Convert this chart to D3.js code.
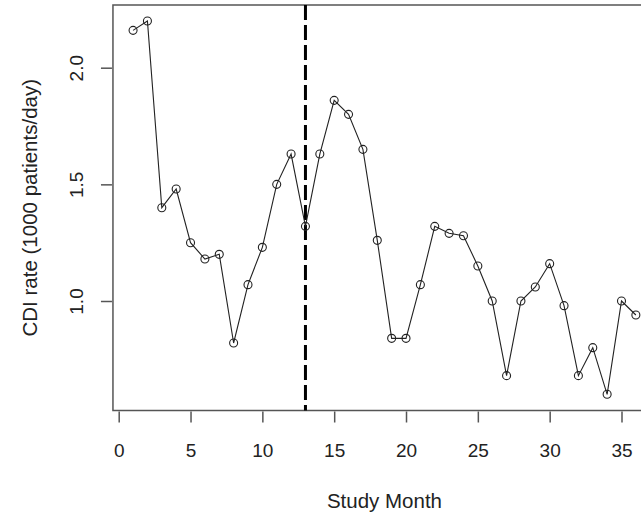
<!DOCTYPE html>
<html>
<head>
<meta charset="utf-8">
<script src="https://cdn.jsdelivr.net/npm/d3@7"></script>
<style>
  body { margin: 0; background: #fff; }
  svg { display: block; font-family: "Liberation Sans", Arial, sans-serif; }
</style>
</head>
<body>
<div id="chart"></div>
<script>
// monthly CDI rate, months 1..36
const months = d3.range(1, 37);
const rates = [
  2.16, 2.20, 1.40, 1.48, 1.25, 1.18, 1.20, 0.82, 1.07, 1.23,
  1.50, 1.63, 1.32, 1.63, 1.86, 1.80, 1.65, 1.26, 0.84, 0.84,
  1.07, 1.32, 1.29, 1.28, 1.15, 1.00, 0.68, 1.00, 1.06, 1.16,
  0.98, 0.68, 0.80, 0.60, 1.00, 0.94
];
const xTicks = [0, 5, 10, 15, 20, 25, 30, 35];
const yTicks = [1.0, 1.5, 2.0];
const interventionMonth = 13;

const width = 641;
const height = 516;

const svg = d3.select("#chart")
  .append("svg")
  .attr("width", width)
  .attr("height", height);

// R-style plot region (right side runs off the canvas)
const x = d3.scaleLinear().domain([0, 35]).range([118.7, 621.5]);
const y = d3.scaleLinear().domain([1.0, 2.0]).range([301, 67.7]);

const x0 = x(-0.4), x1 = x(37.4);
const yTop = 5, yBot = 410.5;

// box
svg.append("rect")
  .attr("x", x0)
  .attr("y", yTop)
  .attr("width", x1 - x0)
  .attr("height", yBot - yTop)
  .attr("fill", "none")
  .attr("stroke", "#555")
  .attr("stroke-width", 1.5);

// x axis
const xAxis = svg.append("g")
  .attr("transform", `translate(0,${yBot + 1})`)
  .call(d3.axisBottom(x).tickValues(xTicks).tickSize(11).tickPadding(21).tickFormat(d3.format("d")));
xAxis.select(".domain").remove();
xAxis.selectAll("line").attr("stroke", "#555").attr("stroke-width", 1.5);
xAxis.selectAll("text")
  .attr("font-size", 19)
  .attr("font-family", "Liberation Sans, Arial, sans-serif")
  .attr("fill", "#222");

// y axis, labels rotated like R's default las=0
const yAxis = svg.append("g")
  .attr("transform", `translate(${x0 - 1},0)`)
  .call(d3.axisLeft(y).tickValues(yTicks).tickSize(11).tickFormat(d3.format(".1f")));
yAxis.select(".domain").remove();
yAxis.selectAll("line").attr("stroke", "#555").attr("stroke-width", 1.5);
yAxis.selectAll("text")
  .attr("x", null)
  .attr("text-anchor", "middle")
  .attr("transform", "translate(-36,0) rotate(-90)")
  .attr("dy", "0.35em")
  .attr("font-size", 19)
  .attr("font-family", "Liberation Sans, Arial, sans-serif")
  .attr("fill", "#222");

// axis titles
svg.append("text")
  .attr("x", (x0 + x1) / 2)
  .attr("y", 508)
  .attr("text-anchor", "middle")
  .attr("font-size", 20.5)
  .attr("fill", "#222")
  .text("Study Month");

svg.append("text")
  .attr("transform", `translate(37,${(yTop + yBot) / 2}) rotate(-90)`)
  .attr("text-anchor", "middle")
  .attr("font-size", 20.5)
  .attr("fill", "#222")
  .text("CDI rate (1000 patients/day)");

// intervention line
svg.append("line")
  .attr("x1", x(interventionMonth))
  .attr("x2", x(interventionMonth))
  .attr("y1", yTop)
  .attr("y2", yBot)
  .attr("stroke", "#000")
  .attr("stroke-width", 3)
  .attr("stroke-dasharray", "15,5");

// series
const pts = months.map((m, i) => ({ m, v: rates[i] }));

svg.append("path")
  .datum(pts)
  .attr("fill", "none")
  .attr("stroke", "#222")
  .attr("stroke-width", 1.1)
  .attr("d", d3.line().x(d => x(d.m)).y(d => y(d.v)));

svg.append("g")
  .selectAll("circle")
  .data(pts)
  .join("circle")
  .attr("cx", d => x(d.m))
  .attr("cy", d => y(d.v))
  .attr("r", 4)
  .attr("fill", "none")
  .attr("stroke", "#222")
  .attr("stroke-width", 1.1);
</script>
</body>
</html>
